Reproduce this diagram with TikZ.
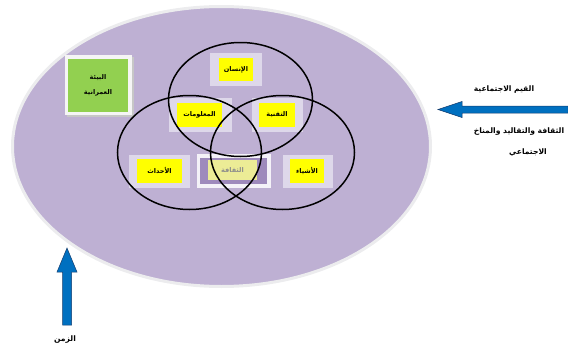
\documentclass[tikz,border=0pt]{standalone}
\usepackage{fontspec}
\newfontfamily\arabicfont[Script=Arabic]{DejaVu Sans}
\TeXXeTstate=1
\usetikzlibrary{shapes.geometric}
\definecolor{bgpurple}{RGB}{190,176,211}
\definecolor{halo}{RGB}{236,236,238}
\definecolor{boxlav}{RGB}{222,216,234}
\definecolor{midout}{RGB}{244,242,248}
\definecolor{midin}{RGB}{158,138,188}
\definecolor{midyel}{RGB}{236,236,150}
\definecolor{ayellow}{RGB}{255,255,0}
\definecolor{agreen}{RGB}{146,208,80}
\definecolor{ablue}{RGB}{0,112,192}
\definecolor{ablueedge}{RGB}{20,60,110}
\newcommand{\ar}[1]{\arabicfont\bfseries\beginR #1\endR}
\tikzset{
  ring/.style={ellipse, draw=black, line width=1.5pt, minimum width=144pt, minimum height=114pt, inner sep=0pt},
  outerbox/.style={rectangle, fill=boxlav, inner sep=0pt},
  ybox/.style={rectangle, fill=ayellow, inner sep=0pt, font=\fontsize{6.5}{7}\selectfont},
  lbl/.style={inner sep=0pt, font=\fontsize{7.6}{8}\selectfont},
  bluearrow/.style={fill=ablue, draw=ablueedge, line width=0.5pt}
}
\begin{document}
\begin{tikzpicture}[x=1pt,y=-1pt]
\useasboundingbox (0,0) rectangle (568,351);
% big ellipse
\node[ellipse, fill=bgpurple, draw=halo, line width=3pt, minimum width=418pt, minimum height=280pt, inner sep=0pt] (world) at (221.5,146.5) {};
% green box
\fill[black!22] (67,57) rectangle (134,117);
\node[rectangle, fill=black!4, minimum width=67pt, minimum height=60pt, inner sep=0pt] (greenout) at (98.5,85) {};
\node[rectangle, fill=agreen, minimum width=60pt, minimum height=53pt, inner sep=0pt, align=center, font=\fontsize{6.5}{7}\selectfont] (green) at (98,85.5) {\ar{البيئة}\\[8pt]\ar{العمرانية}};
% boxes
\node[outerbox, minimum width=52pt, minimum height=33pt] (o1) at (236,69.5) {};
\node[ybox, minimum width=34pt, minimum height=23pt] (t1) at (236,69.5) {\ar{الإنسان}};
\node[outerbox, minimum width=63pt, minimum height=34pt] (o2) at (200.5,115) {};
\node[ybox, minimum width=45pt, minimum height=24pt] (t2) at (199.5,115) {\ar{المعلومات}};
\node[outerbox, minimum width=51pt, minimum height=34pt] (o3) at (277.5,115) {};
\node[ybox, minimum width=36pt, minimum height=24pt] (t3) at (277,115) {\ar{التقنية}};
\node[outerbox, minimum width=61pt, minimum height=33pt] (o4) at (159.5,171.5) {};
\node[ybox, minimum width=45pt, minimum height=24pt] (t4) at (159.5,171) {\ar{الأحداث}};
\node[rectangle, fill=midout, minimum width=74pt, minimum height=34pt, inner sep=0pt] (o5) at (234,171) {};
\node[rectangle, fill=midin, minimum width=67pt, minimum height=26pt, inner sep=0pt] (m5) at (233.5,171) {};
\node[ybox, fill=midyel, text=black!45, minimum width=49pt, minimum height=20pt] (t5) at (232.5,170) {\ar{الثقافة}};
\node[outerbox, minimum width=50pt, minimum height=33pt] (o6) at (308,171.5) {};
\node[ybox, minimum width=34pt, minimum height=24pt] (t6) at (307,171) {\ar{الأشياء}};
% rings
\node[ring] (human) at (240.5,99.5) {};
\node[ring] (leftring) at (189.5,152.5) {};
\node[ring] (rightring) at (282.5,152.5) {};
% right arrow
\draw[bluearrow] (568,106) -- (462,106) -- (462,101.5) -- (438,109.5) -- (462,117.5) -- (462,113) -- (568,113) -- cycle;
\node[lbl] (vals) at (504,90) {\ar{القيم الاجتماعية}};
\node[lbl] (cult) at (519,132) {\ar{الثقافة والتقاليد والمناخ}};
\node[lbl] (soc) at (528,153) {\ar{الاجتماعي}};
% up arrow
\draw[bluearrow] (62.5,325) -- (62.5,272) -- (57,272) -- (67,248) -- (77,272) -- (71.5,272) -- (71.5,325) -- cycle;
\node[lbl] (time) at (65,340) {\ar{الزمن}};
\end{tikzpicture}
\end{document}
